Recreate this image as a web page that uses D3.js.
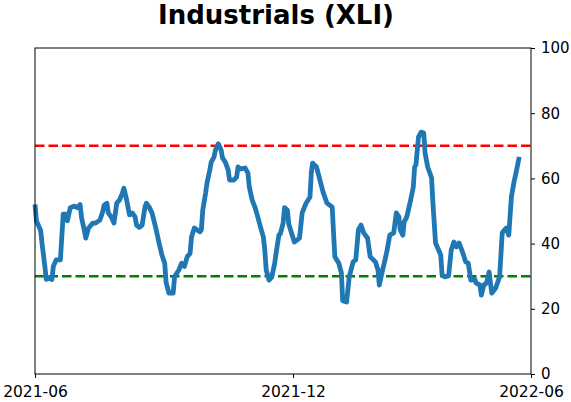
<!DOCTYPE html>
<html>
<head>
<meta charset="utf-8">
<script src="https://cdn.jsdelivr.net/npm/d3@7"></script>
<style>
  body { margin: 0; background: #fff; }
  text { font-family: "DejaVu Sans", sans-serif; }
</style>
</head>
<body>
<svg id="drawing_region"></svg>
<script>
// data
const dates = [
  "2021-06-01","2021-06-02","2021-06-05","2021-06-06","2021-06-08","2021-06-09","2021-06-10","2021-06-13",
  "2021-06-14","2021-06-16","2021-06-19","2021-06-20","2021-06-21","2021-06-23","2021-06-24","2021-06-26",
  "2021-06-29","2021-07-01","2021-07-03","2021-07-04","2021-07-06","2021-07-07","2021-07-09","2021-07-12",
  "2021-07-14","2021-07-17","2021-07-19","2021-07-20","2021-07-22","2021-07-23","2021-07-25","2021-07-27",
  "2021-07-29","2021-07-31","2021-08-02","2021-08-03","2021-08-05","2021-08-07","2021-08-09","2021-08-11",
  "2021-08-12","2021-08-14","2021-08-16","2021-08-18","2021-08-19","2021-08-21","2021-08-23","2021-08-26",
  "2021-08-28","2021-08-30","2021-09-01","2021-09-02","2021-09-04","2021-09-07","2021-09-08","2021-09-11",
  "2021-09-13","2021-09-15","2021-09-17","2021-09-19","2021-09-20","2021-09-22","2021-09-24","2021-09-26",
  "2021-09-27","2021-09-28","2021-09-30","2021-10-01","2021-10-03","2021-10-04","2021-10-06","2021-10-07",
  "2021-10-09","2021-10-11","2021-10-12","2021-10-14","2021-10-16","2021-10-17","2021-10-20","2021-10-22",
  "2021-10-23","2021-10-25","2021-10-28","2021-10-30","2021-10-31","2021-11-02","2021-11-04","2021-11-06",
  "2021-11-08","2021-11-10","2021-11-11","2021-11-12","2021-11-14","2021-11-16","2021-11-18","2021-11-19",
  "2021-11-21","2021-11-22","2021-11-24","2021-11-25","2021-11-27","2021-11-28","2021-12-02","2021-12-06",
  "2021-12-08","2021-12-11","2021-12-14","2021-12-15","2021-12-16","2021-12-19","2021-12-21","2021-12-24",
  "2021-12-27","2021-12-31","2022-01-01","2022-01-02","2022-01-05","2022-01-07","2022-01-08","2022-01-11",
  "2022-01-13","2022-01-16","2022-01-18","2022-01-20","2022-01-22","2022-01-24","2022-01-27","2022-01-29",
  "2022-02-02","2022-02-04","2022-02-05","2022-02-07","2022-02-09","2022-02-11","2022-02-13","2022-02-16",
  "2022-02-18","2022-02-20","2022-02-21","2022-02-23","2022-02-24","2022-02-26","2022-03-01","2022-03-03",
  "2022-03-04","2022-03-05","2022-03-07","2022-03-09","2022-03-11","2022-03-12","2022-03-14","2022-03-17",
  "2022-03-18","2022-03-20","2022-03-24","2022-03-25","2022-03-27","2022-03-30","2022-04-01","2022-04-03",
  "2022-04-05","2022-04-07","2022-04-10","2022-04-12","2022-04-14","2022-04-16","2022-04-19","2022-04-20",
  "2022-04-23","2022-04-24","2022-04-26","2022-04-28","2022-04-30","2022-05-01","2022-05-02","2022-05-05",
  "2022-05-08","2022-05-10","2022-05-13","2022-05-15","2022-05-17","2022-05-19","2022-05-21","2022-05-23"
];
const values = [
  52, 47, 44, 40, 33, 29, 29.5, 29,
  33, 35, 35, 42, 49, 49, 47, 51,
  51.5, 51, 52, 48, 44, 41.7, 44.8, 46.3,
  46.3, 47.2, 49.7, 51.8, 52.4, 49.4, 48.2, 46.3,
  52.4, 53.4, 55.5, 57, 53.4, 48.8, 49.4, 48.2,
  45.7, 45, 45.7, 51.2, 52.4, 51.2, 49.4, 44.2,
  40.2, 36.5, 34, 28, 24.8, 24.8, 29.8, 31.9,
  34, 33, 36, 37, 42, 44.8, 44.2, 43.6,
  44.2, 50.3, 55.5, 58.6, 62.6, 65, 66.6, 68.7,
  70.6, 68.7, 66.3, 65, 62.6, 59.5, 59.5, 60.4,
  63.5, 62.9, 63.2, 61.7, 57.4, 53.4, 51.2, 48.2,
  45, 42, 38, 31.9, 28.8, 29.8, 34, 37,
  42.6, 43, 46.3, 51, 50.3, 46, 40.5, 41.7,
  49.4, 52.4, 54.3, 61.7, 64.7, 63.5, 60.4, 55.8,
  52.4, 51.2, 43.3, 36, 34, 31, 22.5, 22.1,
  29.8, 34.4, 35, 44.2, 45.7, 43.3, 41.7, 36,
  34.4, 31.9, 27.3, 31, 34.4, 38, 42.6, 43.3,
  49.4, 48.2, 44.2, 42.6, 46.6, 48.2, 53.4, 57.4,
  63.5, 64.1, 72.7, 74.2, 73.9, 67.8, 63.5, 60.1,
  52.4, 40.2, 36.5, 30.4, 29.8, 30.1, 38, 40.5,
  39, 40.2, 37, 34.4, 34, 28.8, 29.1, 27.9,
  27.3, 24.2, 27.3, 27.9, 31.3, 27.9, 24.8, 26.4,
  29.8, 43.3, 44.8, 42.6, 54.3, 58.9, 62.6, 66.6
];
const xTickDates = ["2021-06-01", "2021-12-01", "2022-06-01"];
const xTickLabels = ["2021-06", "2021-12", "2022-06"];
const yTicks = [0, 20, 40, 60, 80, 100];
const upperLevel = 70;
const lowerLevel = 30;
const title = "Industrials (XLI)";

const config = {
    width: 571,
    height: 402,
    margin: {top: 48, right: 40, bottom: 28, left: 35}
};

const parse = d3.timeParse("%Y-%m-%d");
const data = dates.map((d, i) => ({date: parse(d), value: values[i]}));
const tickDates = xTickDates.map(parse);

const svg = d3.select("#drawing_region")
    .attr("width", config.width)
    .attr("height", config.height);

const x0 = config.margin.left;
const x1 = config.width - config.margin.right;
const y0 = config.height - config.margin.bottom;
const y1 = config.margin.top;

// the ticks are not evenly spaced in the picture, so map them piecewise
const x = d3.scaleTime()
    .domain(tickDates)
    .range([x0, 293, x1]);
const y = d3.scaleLinear()
    .domain([0, 100])
    .range([y0, y1]);

// title
svg.append("text")
    .attr("x", 276)
    .attr("y", 24)
    .attr("text-anchor", "middle")
    .attr("font-size", "26px")
    .attr("font-weight", "bold")
    .attr("fill", "black")
    .text(title);

// threshold lines
svg.append("line")
    .attr("x1", x0).attr("x2", x1)
    .attr("y1", y(upperLevel)).attr("y2", y(upperLevel))
    .attr("stroke", "#ff0000")
    .attr("stroke-width", 2.6)
    .attr("stroke-dasharray", "9.5,4");
svg.append("line")
    .attr("x1", x0).attr("x2", x1)
    .attr("y1", y(lowerLevel)).attr("y2", y(lowerLevel))
    .attr("stroke", "#008000")
    .attr("stroke-width", 2.6)
    .attr("stroke-dasharray", "9.5,4");

// series
const line = d3.line()
    .x(d => x(d.date))
    .y(d => y(d.value));
svg.append("path")
    .datum(data)
    .attr("fill", "none")
    .attr("stroke", "#1f77b4")
    .attr("stroke-width", 4.8)
    .attr("stroke-linejoin", "round")
    .attr("stroke-linecap", "butt")
    .attr("d", line);

// frame
svg.append("rect")
    .attr("x", x0).attr("y", y1)
    .attr("width", x1 - x0).attr("height", y0 - y1)
    .attr("fill", "none")
    .attr("stroke", "black")
    .attr("stroke-width", 1);

// axes
const xAxis = svg.append("g")
    .attr("transform", `translate(0,${y0})`)
    .call(d3.axisBottom(x)
        .tickValues(tickDates)
        .tickFormat((d, i) => xTickLabels[i])
        .tickSize(4)
        .tickPadding(8));
const yAxis = svg.append("g")
    .attr("transform", `translate(${x1},0)`)
    .call(d3.axisRight(y)
        .tickValues(yTicks)
        .tickSize(4)
        .tickPadding(6));

xAxis.selectAll("text").attr("font-size", "15.5px");
yAxis.selectAll("text").attr("font-size", "15px");
[xAxis, yAxis].forEach(g => {
    g.select(".domain").remove();
    g.selectAll("text")
        .attr("font-family", "DejaVu Sans")
        .attr("fill", "black");
    g.selectAll("line").attr("stroke", "black");
});
</script>
</body>
</html>
